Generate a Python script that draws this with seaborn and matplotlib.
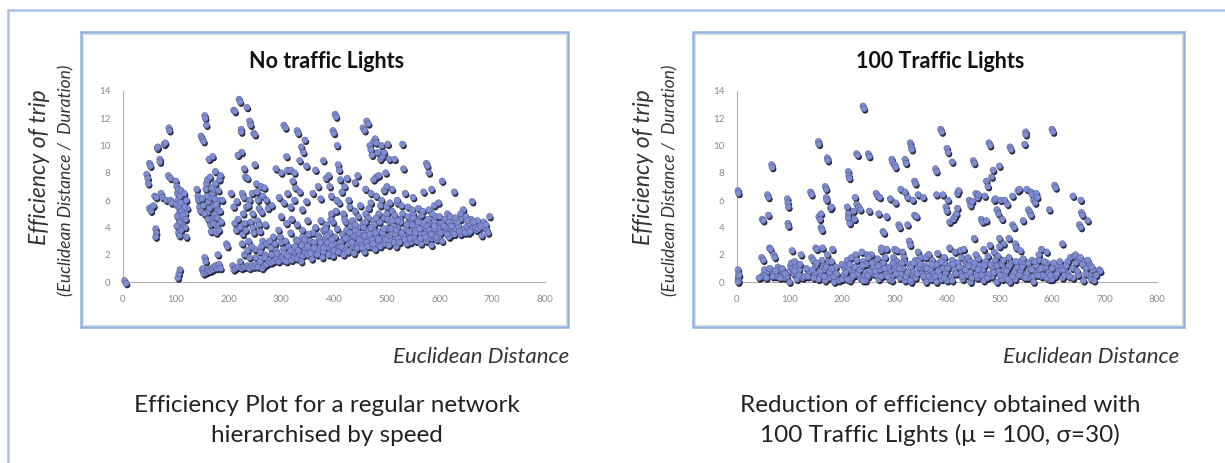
import matplotlib
matplotlib.use("Agg")
import matplotlib.pyplot as plt
import matplotlib.patheffects as pe
from matplotlib.patches import Rectangle
from matplotlib.lines import Line2D
import seaborn as sns
import pandas as pd

sns.set_style("white")
plt.rcParams['font.family'] = ['Lato', 'DejaVu Sans']

# ---------------- data: No traffic lights ----------------
nl_low_x = [(3, 0.1), (6, -0.1), (45, 7.9), (47, 7.6), (48, 7.2), (50, 8.7), (52, 8.5), (50, 5.4), (53, 5.2), (55, 5.5),
            (58, 5.6), (60, 6.3), (63, 6.2), (62, 3.9), (63, 3.6), (62, 3.3), (65, 9.8), (66, 9.9), (70, 9.0), (70, 8.8),
            (72, 6.5), (75, 6.2), (78, 10.1), (80, 10.2), (82, 6.0), (87, 11.3), (88, 11.1), (86, 7.8), (90, 7.6),
            (90, 6.0), (92, 5.8), (100, 7.4), (102, 7.0), (103, 6.5), (105, 6.8), (104, 6.0), (105, 5.5), (106, 5.0),
            (103, 4.8), (105, 3.6), (107, 3.4), (108, 6.3), (110, 6.7), (111, 5.2), (112, 4.6), (113, 4.2), (115, 5.8),
            (116, 6.5), (118, 5.0), (118, 4.0), (120, 3.3), (122, 5.4), (120, 6.0), (104, 0.3), (106, 0.6), (108, 0.9),
            (101, 5.7), (107, 4.4), (109, 5.8), (114, 4.9), (117, 5.5), (119, 4.6), (102, 4.1), (110, 3.8)]
nl_150_200 = [(140, 6.8), (142, 6.3), (143, 6.0), (145, 5.5), (147, 5.2), (148, 10.7), (150, 10.5), (153, 10.3),
              (150, 6.1), (152, 5.6), (155, 12.2), (156, 12.0), (158, 11.5), (158, 7.2), (157, 6.8), (160, 7.5),
              (160, 5.1), (162, 5.9), (163, 9.0), (165, 7.7), (165, 6.2), (166, 4.2), (167, 3.7), (168, 4.5),
              (170, 9.2), (170, 6.5), (172, 6.8), (172, 5.6), (173, 4.8), (175, 8.1), (175, 7.2), (176, 5.0),
              (177, 3.6), (178, 4.1), (180, 6.0), (180, 5.3), (182, 3.8), (183, 7.5), (185, 7.8), (188, 6.0),
              (150, 0.9), (152, 1.0), (153, 0.6), (155, 1.8), (157, 1.5), (158, 0.7), (160, 0.8), (162, 0.9),
              (165, 0.8), (168, 1.0), (170, 0.9), (172, 1.1), (175, 1.2), (178, 1.0), (180, 2.0), (182, 1.3),
              (185, 1.0), (196, 2.8), (198, 2.6), (154, 5.0), (159, 6.3), (164, 5.4), (168, 6.9), (171, 4.3),
              (174, 6.1), (177, 5.7), (179, 4.7), (181, 6.7), (184, 5.2), (186, 4.4), (161, 4.6)]
nl_200_300 = [(205, 6.5), (210, 12.6), (212, 12.5), (220, 13.4), (222, 13.2), (224, 11.2), (225, 9.5), (224, 11.0),
              (235, 12.8), (240, 11.8), (242, 11.5), (248, 10.9), (250, 10.8), (218, 9.3), (230, 8.3), (232, 7.7),
              (236, 7.6), (226, 6.5), (229, 6.2), (234, 5.5), (240, 6.0), (245, 6.5), (250, 8.6), (253, 7.2),
              (256, 6.0), (258, 5.4), (262, 7.0), (265, 6.3), (268, 6.9), (210, 5.5), (212, 4.3), (215, 3.8),
              (218, 4.6), (222, 4.0), (227, 3.5), (231, 4.3), (238, 3.0), (242, 4.4), (248, 3.6), (255, 4.5),
              (260, 3.7), (265, 3.0), (270, 4.2), (275, 5.4), (208, 1.2), (210, 0.9), (213, 1.0), (218, 1.1),
              (222, 1.5), (225, 1.0), (228, 1.1), (232, 1.1), (236, 1.2), (240, 1.0), (244, 1.2), (248, 1.1),
              (252, 1.3), (256, 1.1), (260, 1.5), (264, 1.0), (268, 1.2), (272, 1.3), (276, 1.6), (280, 1.4),
              (285, 1.5), (290, 1.7), (295, 1.5), (300, 1.8), (305, 1.6), (310, 1.5), (315, 1.9), (320, 1.6),
              (325, 1.8), (230, 2.0), (240, 1.8), (250, 2.4), (260, 2.2), (270, 2.0), (280, 2.5), (290, 2.3),
              (300, 2.9), (285, 3.3), (295, 3.8), (272, 2.8), (282, 2.0), (288, 2.8), (292, 2.1), (298, 3.3),
              (304, 2.4), (308, 3.0), (314, 2.6), (318, 3.6), (324, 2.2), (328, 3.1), (262, 2.6), (268, 1.8),
              (278, 3.0), (252, 1.8), (244, 2.6), (236, 2.3), (226, 2.8), (216, 5.9), (228, 5.0), (238, 5.6),
              (246, 5.0), (254, 6.6), (263, 5.1), (272, 6.0), (282, 5.6), (246, 4.0), (258, 4.2), (233, 3.8)]
nl_300_430 = [(290, 8.3), (300, 8.0), (305, 11.5), (308, 11.3), (310, 9.2), (312, 8.2), (318, 8.2), (325, 8.0),
              (330, 11.1), (332, 10.9), (335, 8.9), (338, 9.9), (342, 9.5), (345, 10.4), (348, 8.5), (322, 7.4),
              (327, 6.9), (296, 6.2), (305, 5.8), (312, 6.5), (318, 5.5), (325, 6.0), (335, 6.6), (340, 5.3),
              (348, 5.9), (300, 4.8), (310, 4.3), (320, 4.6), (330, 4.2), (340, 3.8), (350, 4.5), (330, 1.7),
              (335, 2.0), (340, 1.9), (345, 2.2), (350, 2.0), (355, 2.3), (360, 2.1), (365, 2.5), (370, 2.3),
              (375, 2.6), (380, 2.2), (385, 2.7), (390, 2.5), (395, 2.2), (400, 2.8), (405, 2.4), (410, 2.6),
              (415, 3.0), (330, 3.0), (340, 3.3), (345, 2.8), (355, 3.0), (360, 3.6), (365, 4.0), (370, 3.4),
              (375, 4.5), (380, 3.8), (385, 4.2), (390, 3.3), (395, 5.0), (398, 4.4), (360, 6.5), (365, 8.2),
              (370, 7.0), (375, 6.1), (380, 8.9), (385, 7.6), (390, 7.8), (392, 7.0), (395, 6.3), (398, 11.1),
              (400, 10.9), (402, 12.3), (404, 12.1), (406, 10.0), (408, 8.6), (410, 8.2), (412, 7.5), (415, 6.6),
              (420, 7.0), (425, 7.6), (428, 6.0), (430, 5.5), (418, 5.0), (422, 4.4), (410, 5.8), (405, 6.0)]
nl_430_530 = [(430, 3.0), (435, 2.6), (440, 3.3), (445, 2.8), (450, 3.4), (455, 3.0), (460, 3.6), (465, 3.2),
              (470, 2.6), (475, 3.8), (480, 3.3), (485, 3.7), (490, 3.0), (495, 3.4), (500, 3.9), (505, 3.3),
              (510, 3.6), (515, 3.1), (520, 4.0), (435, 4.5), (440, 5.2), (445, 4.0), (450, 5.6), (455, 4.3),
              (460, 5.0), (465, 4.7), (470, 5.8), (475, 4.5), (480, 6.3), (485, 5.0), (490, 6.0), (495, 4.7),
              (500, 5.5), (505, 4.4), (510, 5.2), (515, 4.9), (520, 5.8), (525, 4.6), (530, 5.0), (440, 7.3),
              (445, 7.8), (455, 11.3), (458, 11.1), (462, 11.8), (465, 11.6), (468, 10.0), (470, 9.7), (472, 9.3),
              (475, 10.3), (478, 10.5), (480, 10.2), (483, 9.5), (488, 9.0), (490, 10.0), (492, 9.2), (495, 9.5),
              (498, 8.0), (502, 10.1), (505, 9.0), (480, 7.7), (475, 7.5), (485, 7.8), (460, 6.8), (470, 6.5),
              (495, 6.7), (510, 6.8), (515, 9.0), (530, 10.1), (532, 8.3), (535, 6.5), (520, 6.0), (500, 7.0)]
nl_530_700 = [(540, 4.3), (545, 3.6), (550, 4.0), (555, 3.8), (560, 4.6), (565, 3.5), (570, 4.0), (575, 3.7),
              (580, 4.3), (585, 3.2), (590, 4.4), (595, 3.6), (600, 4.2), (540, 5.5), (550, 5.0), (560, 5.4),
              (570, 6.6), (575, 8.7), (577, 8.5), (580, 8.0), (585, 6.8), (590, 5.6), (598, 5.8), (605, 7.4),
              (550, 6.2), (545, 2.9), (555, 3.0), (565, 2.8), (575, 3.0), (585, 2.7), (595, 3.1), (605, 3.0),
              (610, 4.6), (615, 5.0), (620, 3.9), (625, 4.5), (628, 6.6), (632, 4.2), (640, 4.6), (645, 5.3),
              (650, 4.0), (655, 3.6), (660, 4.6), (662, 5.9), (665, 4.2), (670, 3.8), (675, 4.3), (680, 3.4),
              (685, 4.0), (690, 3.8), (695, 4.8), (610, 3.7), (620, 3.4), (630, 3.9), (640, 3.5), (660, 3.9),
              (672, 4.5), (650, 4.8)]
nl_dense = [(382, 3.1), (388, 2.9), (392, 3.6), (396, 2.7), (402, 3.3), (406, 3.9), (412, 2.9), (416, 3.5),
            (420, 2.4), (424, 3.8), (428, 2.8), (432, 4.1), (436, 3.4), (442, 2.4), (446, 3.6), (452, 2.7),
            (456, 4.0), (462, 2.9), (466, 3.8), (472, 3.1), (476, 4.2), (482, 2.8), (486, 4.4), (492, 3.6),
            (496, 2.8), (502, 4.6), (506, 3.0), (512, 4.1), (516, 3.5), (522, 3.2), (526, 4.4), (532, 3.4),
            (536, 3.9), (542, 3.7), (546, 4.6), (552, 3.3), (556, 4.2), (562, 3.9), (566, 4.9), (572, 3.5),
            (576, 4.1), (582, 3.8), (588, 3.4), (592, 4.8), (598, 3.9), (604, 4.3), (612, 4.0), (618, 4.4),
            (624, 3.6), (636, 4.1), (644, 3.8), (656, 4.3), (668, 4.0), (684, 4.4), (478, 2.4), (458, 2.2),
            (438, 2.1), (418, 2.0), (398, 1.9), (378, 1.8), (358, 1.7), (518, 2.6), (538, 2.8), (558, 3.0),
            (578, 3.2), (598, 3.3), (618, 3.3), (338, 1.5), (345, 2.5), (352, 3.5), (362, 2.9), (372, 3.2),
            (384, 3.9), (394, 4.6), (404, 5.2), (446, 4.8), (466, 5.4), (488, 5.6), (506, 5.8), (528, 5.6),
            (548, 5.3), (568, 5.2), (586, 5.0)]
nl_dense2 = [(305, 2.1), (312, 1.9), (318, 2.3), (326, 2.6), (332, 2.3), (338, 2.7), (344, 3.1), (350, 2.6),
             (356, 2.1), (362, 2.5), (368, 2.0), (374, 2.9), (380, 2.5), (386, 3.4), (390, 2.0), (396, 3.1),
             (400, 2.3), (408, 2.2), (414, 2.6), (422, 3.2), (426, 2.2), (434, 2.9), (440, 3.8), (444, 2.5),
             (448, 3.1), (454, 2.5), (458, 3.4), (464, 2.6), (468, 3.5), (474, 2.8), (478, 3.6), (484, 3.1),
             (488, 2.6), (494, 3.9), (498, 3.1), (504, 2.7), (508, 3.9), (514, 2.9), (518, 3.8), (524, 2.9),
             (528, 3.6), (534, 3.1), (538, 4.2), (544, 3.2), (548, 4.2), (554, 3.6), (558, 4.5), (564, 3.2),
             (568, 4.3), (574, 3.3), (578, 4.6), (584, 3.5), (590, 3.9), (594, 3.3), (602, 3.6), (608, 4.1),
             (614, 3.5), (622, 4.1), (628, 3.5), (634, 4.4), (638, 3.7), (648, 3.6), (652, 4.5), (658, 3.7),
             (664, 4.4), (674, 3.9), (678, 4.1), (688, 4.2), (692, 3.6), (420, 4.6), (440, 4.2), (460, 4.4),
             (480, 4.7), (500, 5.0), (520, 4.5), (540, 4.8), (560, 4.4), (580, 5.3), (600, 4.8), (620, 4.8),
             (640, 5.0), (430, 3.6), (470, 4.0), (510, 4.5), (550, 4.7), (590, 4.1), (630, 4.7)]

# ---------------- data: 100 traffic lights ----------------
tl_0_130 = [(2, 6.7), (3, 6.5), (2, 0.9), (3, 0.6), (2, 0.3), (3, 0.1), (2, 0.0), (4, 0.5), (48, 4.6), (50, 4.5),
            (47, 1.8), (50, 1.6), (47, 0.4), (50, 0.5), (55, 0.6), (58, 6.4), (60, 6.2), (60, 4.9), (62, 2.5),
            (64, 2.4), (66, 8.6), (67, 8.4), (70, 2.0), (72, 1.8), (60, 0.8), (65, 0.9), (70, 0.6), (75, 0.4),
            (78, 1.1), (80, 0.9), (85, 0.5), (88, 0.7), (90, 0.3), (96, 6.1), (97, 5.8), (98, 5.5), (97, 4.3),
            (98, 4.1), (100, 0.8), (102, 1.2), (104, 1.4), (106, 1.0), (108, 0.6), (100, 0.0), (105, 2.3),
            (110, 1.5), (112, 1.1), (115, 0.5), (118, 0.9), (120, 1.3), (122, 2.0), (125, 0.3), (95, 0.4),
            (42, 0.3), (52, 0.9), (56, 0.3), (62, 1.0), (68, 0.4), (74, 0.8), (82, 0.3), (86, 1.0), (92, 0.6),
            (110, 0.8), (114, 0.2), (118, 0.5), (128, 0.4)]
tl_130_200 = [(135, 0.4), (138, 0.8), (140, 6.6), (142, 6.4), (142, 1.8), (145, 1.6), (148, 0.6), (150, 2.5),
              (152, 2.4), (155, 10.3), (156, 10.1), (156, 4.8), (158, 4.6), (160, 5.0), (160, 4.0), (162, 3.8),
              (163, 2.5), (160, 0.5), (165, 1.2), (165, 0.9), (168, 7.0), (170, 6.8), (170, 6.2), (171, 6.0),
              (172, 9.1), (173, 8.9), (175, 1.5), (172, 2.0), (175, 0.3), (178, 5.4), (180, 5.5), (182, 2.4),
              (180, 1.5), (185, 0.8), (188, 1.1), (190, 0.2), (185, 0.0), (150, 1.2), (155, 0.2), (168, 0.1),
              (132, 1.0), (144, 0.9), (146, 0.3), (152, 1.4), (158, 0.8), (162, 1.6), (166, 0.4), (170, 1.1),
              (176, 0.7), (180, 1.0), (184, 0.4), (190, 0.6), (194, 0.1)]
tl_200_305 = [(200, 0.2), (205, 1.0), (208, 1.2), (210, 1.6), (210, 5.5), (212, 5.0), (212, 4.7), (212, 8.1),
              (213, 7.8), (214, 7.6), (215, 4.3), (218, 1.8), (220, 0.8), (222, 5.2), (224, 4.6), (225, 6.2),
              (226, 2.0), (228, 9.4), (230, 9.3), (228, 5.7), (232, 5.5), (235, 5.3), (238, 2.2), (240, 12.9),
              (242, 12.7), (240, 1.5), (245, 0.7), (248, 2.0), (250, 9.4), (252, 9.2), (252, 5.2), (256, 2.0),
              (258, 1.0), (250, 0.4), (235, 0.3), (225, 0.5), (215, 0.1), (245, 0.1), (260, 0.6), (262, 1.4),
              (265, 6.5), (268, 6.3), (272, 6.2), (270, 5.0), (275, 2.3), (278, 3.7), (280, 3.6), (282, 1.8),
              (285, 4.8), (285, 2.4), (290, 0.8), (292, 6.1), (295, 9.0), (296, 8.8), (300, 8.6), (302, 8.4),
              (298, 1.8), (300, 2.4), (302, 5.8), (305, 1.5), (270, 0.2), (280, 0.5), (295, 0.1), (275, 1.0)]
tl_305_410 = [(308, 4.2), (310, 4.0), (312, 6.8), (315, 2.2), (318, 1.8), (320, 9.0), (322, 8.7), (320, 6.6),
              (325, 6.2), (325, 4.2), (328, 3.0), (330, 2.7), (330, 10.2), (332, 9.9), (333, 9.7), (335, 6.0),
              (338, 7.4), (340, 7.2), (338, 4.9), (342, 4.8), (345, 6.4), (345, 2.2), (350, 1.0), (310, 0.3),
              (320, 0.1), (335, 0.5), (340, 1.6), (350, 1.8), (332, 0.0), (355, 6.2), (360, 1.8), (362, 0.6),
              (365, 2.0), (370, 0.2), (375, 1.2), (378, 8.3), (380, 8.1), (380, 6.4), (382, 2.1), (385, 0.9),
              (388, 11.2), (390, 11.0), (392, 6.4), (395, 1.8), (398, 5.5), (400, 9.8), (402, 9.5), (400, 5.2),
              (402, 6.0), (405, 4.4), (405, 2.5), (410, 8.8), (410, 1.6), (380, 0.0), (390, 0.2), (400, 0.1),
              (385, 1.4)]
tl_410_515 = [(412, 4.6), (415, 4.8), (418, 5.0), (420, 6.5), (420, 5.4), (422, 6.7), (425, 2.3), (428, 1.0),
              (432, 2.4), (435, 1.5), (438, 0.5), (440, 1.8), (442, 6.0), (445, 5.6), (448, 5.9), (450, 8.9),
              (452, 8.7), (452, 3.2), (455, 6.5), (458, 6.2), (460, 6.4), (460, 1.7), (458, 0.3), (445, 0.0),
              (430, 0.2), (465, 4.6), (468, 4.4), (470, 2.4), (472, 6.3), (475, 7.4), (478, 7.0), (475, 4.5),
              (480, 10.2), (482, 10.0), (482, 2.7), (485, 7.7), (488, 8.2), (490, 6.0), (490, 2.2), (492, 6.1),
              (495, 5.3), (498, 5.0), (500, 8.5), (500, 3.2), (502, 6.0), (505, 4.6), (508, 2.8), (510, 6.0),
              (510, 1.0), (495, 0.0), (485, 0.4), (505, 0.2), (470, 0.5)]
tl_515_700 = [(515, 5.7), (518, 3.2), (520, 9.9), (522, 9.7), (525, 6.3), (525, 4.2), (528, 4.0), (530, 2.8),
              (532, 2.5), (535, 6.7), (538, 6.8), (540, 1.5), (545, 4.5), (548, 10.1), (550, 11.0), (550, 10.8),
              (552, 6.8), (555, 5.3), (558, 5.1), (560, 6.6), (562, 6.4), (560, 4.9), (545, 0.4), (530, 0.2),
              (520, 0.0), (555, 0.3), (565, 6.0), (568, 5.8), (570, 6.5), (572, 6.2), (575, 1.6), (580, 2.4),
              (585, 1.0), (590, 2.2), (595, 5.3), (600, 11.2), (602, 11.0), (605, 7.1), (607, 6.9), (580, 0.4),
              (595, 0.2), (570, 0.7), (590, 0.3), (610, 1.2), (620, 2.8), (625, 0.8), (630, 1.5), (635, 1.8),
              (640, 6.3), (642, 1.9), (645, 2.0), (650, 1.6), (652, 4.2), (655, 4.0), (655, 6.0), (656, 5.1),
              (658, 4.9), (660, 1.5), (662, 1.2), (665, 1.0), (668, 4.5), (670, 0.5), (672, 1.3), (675, 0.2),
              (678, 0.9), (680, 0.1), (690, 0.9), (692, 0.8), (640, 0.3), (650, 0.5), (660, 0.1), (620, 0.3),
              (630, 0.6)]
tl_dense = [(204, 0.5), (212, 0.9), (218, 0.3), (224, 1.1), (230, 0.6), (236, 1.0), (242, 0.4), (246, 1.3),
            (254, 0.7), (260, 1.1), (266, 0.5), (272, 0.9), (278, 1.4), (284, 0.6), (288, 1.1), (294, 0.4),
            (300, 0.9), (306, 1.2), (312, 0.6), (316, 1.0), (322, 0.4), (328, 1.3), (334, 0.8), (340, 0.3),
            (346, 1.1), (352, 0.6), (358, 1.2), (364, 0.4), (368, 0.9), (374, 0.6), (380, 1.3), (386, 0.5),
            (392, 1.0), (398, 0.7), (404, 1.2), (408, 0.4), (414, 0.9), (420, 1.4), (426, 0.6), (432, 1.0),
            (438, 1.3), (444, 0.7), (450, 1.1), (456, 0.5), (462, 1.2), (468, 0.9), (474, 1.5), (480, 0.6),
            (486, 1.1), (492, 1.6), (498, 0.8), (504, 1.3), (510, 0.5), (516, 1.0), (522, 1.4), (528, 0.7),
            (534, 1.1), (540, 0.8), (546, 1.3), (552, 0.6), (558, 1.0), (564, 0.4), (570, 1.2), (576, 0.9),
            (582, 0.5), (588, 1.1), (594, 0.7), (600, 1.0), (606, 0.4), (612, 0.8), (618, 1.1), (624, 0.5),
            (210, 0.2), (240, 0.1), (290, 0.2), (330, 0.1), (360, 0.0), (410, 0.1), (470, 0.1), (515, 0.2),
            (565, 0.0), (600, 0.2), (228, 1.6), (268, 1.7), (318, 1.5), (372, 1.6), (428, 1.8), (478, 1.9),
            (518, 1.8), (562, 1.6), (200, 1.3), (250, 1.8), (300, 1.2), (345, 1.5), (395, 1.4), (445, 1.5),
            (495, 1.2), (545, 1.7), (590, 1.4), (540, 2.3), (575, 2.0), (500, 2.6), (455, 2.0), (415, 2.2),
            (365, 2.0), (305, 2.3), (275, 2.5)]
tl_dense2 = [(207, 0.7), (215, 1.3), (221, 0.5), (233, 0.9), (239, 1.2), (249, 0.5), (257, 1.4), (263, 0.8),
             (269, 1.2), (275, 0.4), (281, 1.0), (287, 0.4), (297, 1.4), (303, 0.6), (309, 1.0), (314, 1.4),
             (325, 0.7), (331, 1.1), (337, 1.4), (343, 0.6), (349, 1.3), (355, 0.4), (361, 1.0), (371, 1.3),
             (377, 0.4), (383, 0.8), (389, 1.5), (395, 0.3), (401, 1.0), (411, 1.3), (417, 0.6), (423, 1.1),
             (429, 0.4), (435, 0.9), (441, 1.2), (447, 0.3), (453, 1.4), (459, 0.9), (465, 0.5), (471, 1.2),
             (477, 0.3), (483, 1.3), (489, 0.7), (497, 1.9), (501, 0.5), (507, 1.6), (513, 0.8), (519, 1.2),
             (525, 0.4), (531, 1.5), (537, 0.5), (543, 1.1), (549, 0.3), (555, 1.4), (561, 0.9), (567, 1.5),
             (573, 0.5), (579, 1.0), (585, 1.5), (597, 0.5), (603, 1.4), (609, 0.6), (615, 1.5), (621, 0.9),
             (627, 1.2), (633, 0.4), (639, 1.0), (645, 1.4), (648, 0.8), (654, 1.8), (658, 1.3), (664, 0.6),
             (668, 1.6), (676, 1.1), (684, 0.5)]

x_ticks = [0, 100, 200, 300, 400, 500, 600, 700, 800]
y_ticks = [0, 2, 4, 6, 8, 10, 12, 14]
titles = ["No traffic Lights", "100 Traffic Lights"]
captions = [["Efficiency Plot for a regular network", "hierarchised by speed"],
            ["Reduction of efficiency obtained with", "100 Traffic Lights (\u03bc = 100, \u03c3=30)"]]
ylabel_main = "Efficiency of trip"
ylabel_sub = "(Euclidean Distance /  Duration)"
xlabel = "Euclidean Distance"

nl_pts = nl_low_x + nl_150_200 + nl_200_300 + nl_300_430 + nl_430_530 + nl_530_700 + nl_dense + nl_dense2
tl_pts = tl_0_130 + tl_130_200 + tl_200_305 + tl_305_410 + tl_410_515 + tl_515_700 + tl_dense + tl_dense2
datasets = [pd.DataFrame(nl_pts, columns=["dist", "eff"]), pd.DataFrame(tl_pts, columns=["dist", "eff"])]

W, H = 1225, 463
fig = plt.figure(figsize=(W / 100, H / 100), dpi=100)
fig.patch.set_facecolor("white")

def fx(px):
    return px / W

def fy(py):
    return 1 - py / H

# outer slide frame
frame_col = "#a7c2e6"
fig.add_artist(Line2D([fx(8), 1.0], [fy(10), fy(10)], color=frame_col, lw=1.8, transform=fig.transFigure))
fig.add_artist(Line2D([fx(8), fx(8)], [fy(10), 0.0], color=frame_col, lw=1.8, transform=fig.transFigure))

panels = [
    dict(box=(81, 32, 568, 327), ax=(123, 91, 545, 282), cx=327, ylx=(40, 66), xl_right=569, cap_x=327),
    dict(box=(693, 32, 1184, 327), ax=(737, 91, 1157, 282), cx=940, ylx=(643, 670), xl_right=1179, cap_x=940),
]

for i, p in enumerate(panels):
    bx0, by0, bx1, by1 = p["box"]
    fig.add_artist(Rectangle((fx(bx0), fy(by1)), fx(bx1 - bx0), (by1 - by0) / H, fill=False,
                             edgecolor="#8fb2e0", lw=1.8, transform=fig.transFigure))
    fig.add_artist(Rectangle((fx(bx0 + 2), fy(by1 - 2)), fx(bx1 - bx0 - 4), (by1 - by0 - 4) / H, fill=False,
                             edgecolor="#dcdcdc", lw=0.8, transform=fig.transFigure))
    ax0, ay0, ax1, ay1 = p["ax"]
    ax = fig.add_axes([fx(ax0), fy(ay1), fx(ax1 - ax0), (ay1 - ay0) / H])
    ax.set_facecolor("none")
    sns.scatterplot(data=datasets[i], x="dist", y="eff", ax=ax, s=20, color="#7e8dd2",
                    edgecolor="#4a4f80", linewidth=0.3, clip_on=False, zorder=3, legend=False)
    for coll in ax.collections:
        coll.set_path_effects([pe.SimplePatchShadow(offset=(0.8, -1.3), shadow_rgbFace="#14152a", alpha=0.9),
                               pe.Normal()])
    ax.set_xlim(0, 800)
    ax.set_ylim(0, 14)
    ax.set_xticks(x_ticks)
    ax.set_yticks(y_ticks)
    ax.set_xticklabels([str(t) for t in x_ticks])
    ax.set_yticklabels([str(t) for t in y_ticks])
    for s in ["top", "right"]:
        ax.spines[s].set_visible(False)
    for s in ["left", "bottom"]:
        ax.spines[s].set_color("#b0b0b0")
        ax.spines[s].set_linewidth(0.8)
    ax.tick_params(axis="both", colors="#8a8a8a", labelsize=7, length=3, width=0.6, direction="out")
    ax.tick_params(axis="y", pad=6)
    ax.tick_params(axis="x", pad=6)
    ax.set_xlabel("")
    ax.set_ylabel("")
    # chart title
    fig.text(fx(p["cx"]), fy(62), titles[i], ha="center", va="center", fontsize=15.5, fontweight="bold",
             color="#111111")
    # y labels
    fig.text(fx(p["ylx"][0]), fy(167), ylabel_main, rotation=90, ha="center", va="center", fontsize=16.5,
             style="italic", color="#333333")
    fig.text(fx(p["ylx"][1]), fy(180), ylabel_sub, rotation=90, ha="center", va="center", fontsize=12.5,
             style="italic", color="#333333")
    # x label
    fig.text(fx(p["xl_right"]), fy(357), xlabel, ha="right", va="center", fontsize=16, style="italic",
             color="#333333")
    # captions
    fig.text(fx(p["cap_x"]), fy(406), captions[i][0], ha="center", va="center", fontsize=17.5, color="#222222")
    fig.text(fx(p["cap_x"]), fy(435), captions[i][1], ha="center", va="center", fontsize=17.5, color="#222222")

fig.savefig("out.png", dpi=100, facecolor="white")
